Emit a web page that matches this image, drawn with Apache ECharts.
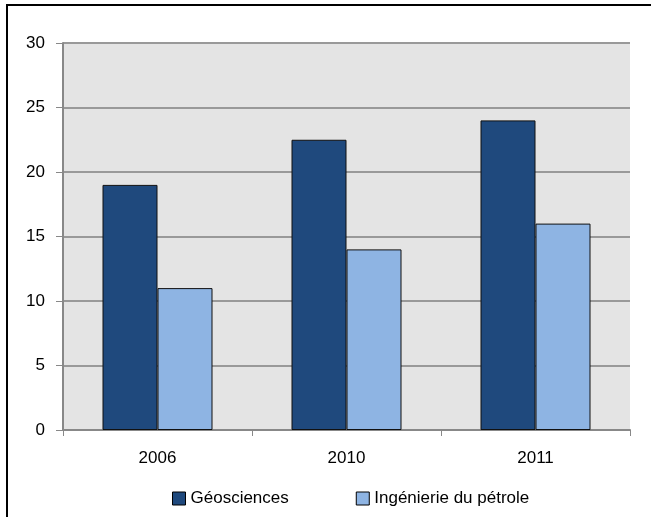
<!DOCTYPE html>
<html>
<head>
<meta charset="utf-8">
<script src="https://cdn.jsdelivr.net/npm/echarts@6/dist/echarts.min.js"></script>
<style>
html, body { margin: 0; padding: 0; background: #fff; }
#main { width: 651px; height: 517px; }
</style>
</head>
<body>
<div id="main"></div>
<script>
var annees = ['2006', '2010', '2011'];
var geosciences = [19, 22.5, 24];
var petrole = [11, 14, 16];
var graduations = [0, 5, 10, 15, 20, 25, 30];

var myChart = echarts.init(document.getElementById('main'));

var police = '"Liberation Sans", Arial, sans-serif';

var option = {
    animation: false,
    backgroundColor: '#ffffff',
    // cadre extérieur
    graphic: [{
        type: 'rect',
        shape: { x: 7, y: 5, width: 700, height: 600 },
        style: { fill: 'none', stroke: '#000', lineWidth: 2 },
        silent: true
    }],
    grid: {
        left: 63,
        right: 21,
        top: 43,
        bottom: 87,
        show: true,
        backgroundColor: '#e4e4e4',
        borderWidth: 0
    },
    legend: {
        top: 485,
        left: 167,
        icon: 'rect',
        itemWidth: 13,
        itemHeight: 13,
        itemGap: 67,
        itemStyle: { borderColor: '#000', borderWidth: 1 },
        textStyle: { fontFamily: police, fontSize: 17, color: '#000' },
        data: ['Géosciences', 'Ingénierie du pétrole']
    },
    xAxis: {
        type: 'category',
        data: annees,
        axisLine: { lineStyle: { color: '#888', width: 2 } },
        axisTick: { show: true, length: 6, lineStyle: { color: '#888' } },
        axisLabel: { fontFamily: police, fontSize: 17, color: '#000', margin: 20 }
    },
    yAxis: {
        type: 'value',
        min: graduations[0],
        max: graduations[graduations.length - 1],
        interval: 5,
        axisLine: { show: true, lineStyle: { color: '#888', width: 2 } },
        axisTick: { show: true, length: 7, lineStyle: { color: '#888' } },
        axisLabel: { fontFamily: police, fontSize: 17, color: '#000', margin: 18 },
        splitLine: { show: true, lineStyle: { color: '#999', width: 2 } }
    },
    series: [{
        name: 'Géosciences',
        type: 'bar',
        data: geosciences,
        barWidth: 55,
        barGap: '0%',
        itemStyle: { color: '#1f497d', borderColor: '#111', borderWidth: 1 }
    },
    {
        name: 'Ingénierie du pétrole',
        type: 'bar',
        data: petrole,
        barWidth: 55,
        barGap: '0%',
        itemStyle: { color: '#8eb4e3', borderColor: '#111', borderWidth: 1 }
    }]
};

myChart.setOption(option);
</script>
</body>
</html>
